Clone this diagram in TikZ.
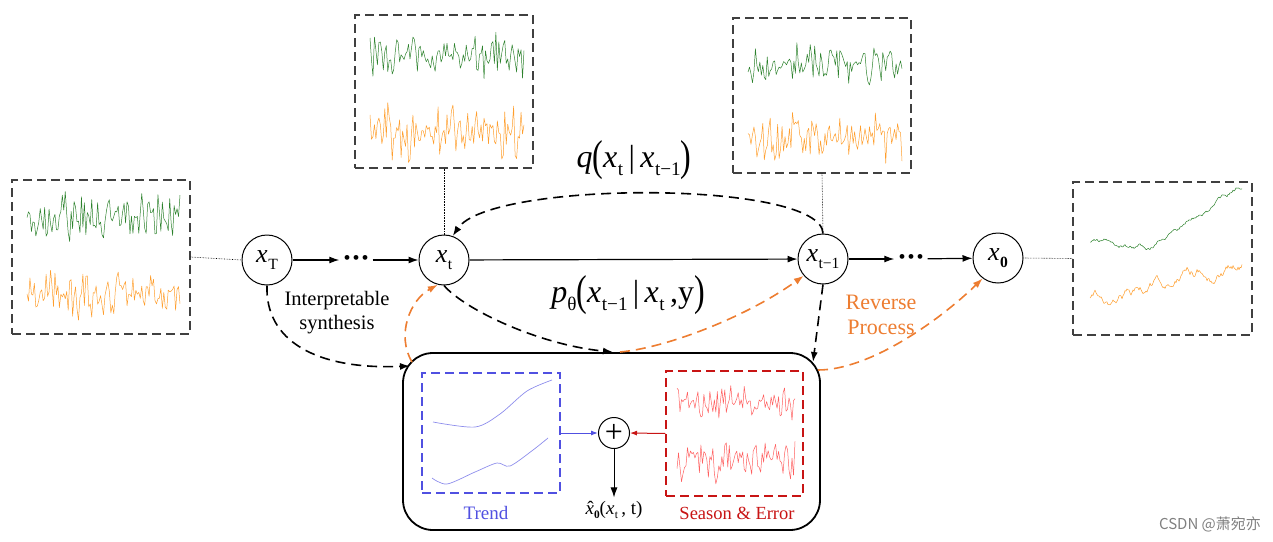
\documentclass[tikz,border=0pt]{standalone}
\usepackage{fontspec}
\setmainfont{Liberation Serif}
\newfontfamily\cjk{Noto Sans CJK SC}
\usetikzlibrary{arrows.meta}
\definecolor{revorange}{RGB}{237,125,49}
\definecolor{sergreen}{RGB}{45,130,45}
\definecolor{serorange}{RGB}{255,158,45}
\definecolor{trendblue}{RGB}{80,80,225}
\definecolor{seasonred}{RGB}{200,20,20}
\definecolor{noisered}{RGB}{255,95,95}
\newcommand{\sub}[1]{\raisebox{-0.25em}{\scalebox{0.6}{#1}}}
\newcommand{\xv}[1]{\textit{x}\kern0.5pt\sub{#1}}
\newcommand{\lp}{\raisebox{-0.1em}{\scalebox{1}[1.35]{(}}}
\newcommand{\rp}{\raisebox{-0.1em}{\scalebox{1}[1.35]{)}}}
\newcommand{\hatx}{\ooalign{\textit{x}\cr\hfil\kern1.5pt ˆ\hfil\cr}}
\newcommand{\bigfont}{\fontsize{32}{34}\selectfont}
\newcommand{\nodefont}{\fontsize{26}{28}\selectfont}
\tikzset{
  state/.style={draw, circle, line width=1pt, minimum size=50pt, inner sep=0pt, font=\nodefont},
  panel/.style={draw=black!75, line width=1.3pt, dash pattern=on 9pt off 5pt},
  conn/.style={line width=1.2pt, -{Latex[length=10pt,width=7pt]}},
  link/.style={conn, line width=1.6pt, dash pattern=on 10pt off 6pt},
  revlink/.style={link, revorange},
  dotline/.style={densely dotted, line width=0.6pt},
  series/.style={line width=0.5pt, line join=round},
  dots/.style={inner sep=4pt, font=\fontsize{20}{20}\selectfont}
}
\begin{document}
\begin{tikzpicture}[x=1pt, y=-1pt]
\useasboundingbox (0,0) rectangle (1273,541);
% sample panels
\node[panel, minimum width=178pt, minimum height=154pt] (boxT) at (101,257) {};
\node[panel, minimum width=178pt, minimum height=153pt] (boxt) at (444,91.5) {};
\node[panel, minimum width=178pt, minimum height=155pt] (boxtm) at (822,95.5) {};
\node[panel, minimum width=179pt, minimum height=153pt] (box0) at (1162.5,258.5) {};
\pgfmathsetseed{11}
\draw[series, sergreen] plot[domain=27:180, samples=105] (\x, {216+15*(rand+rand)});
\draw[series, serorange] plot[domain=27:180, samples=105] (\x, {296+15*(rand+rand)});
\pgfmathsetseed{23}
\draw[series, sergreen] plot[domain=370:524, samples=105] (\x, {56+13*(rand+rand)});
\draw[series, serorange] plot[domain=370:524, samples=105] (\x, {132+16*(rand+rand)});
\pgfmathsetseed{37}
\draw[series, sergreen] plot[domain=748:902, samples=105] (\x, {64+12*(rand+rand)});
\draw[series, serorange] plot[domain=748:902, samples=105] (\x, {138+14*(rand+rand)});
\pgfmathsetseed{5}
\draw[series, sergreen] (1090,242) \foreach \i in {1,...,152} { -- ++(1,{1.6*rand+(\i<60)*0.15-(\i>=60)*0.7}) };
\pgfmathsetseed{19}
\draw[series, serorange] (1090,298) \foreach \i in {1,...,152} { -- ++(1,{3.4*rand-0.17}) };
% chain
\node[state] (xT) at (267,260) {\xv{T}};
\node[state] (xt) at (444,260) {\xv{t}};
\node[state] (xtm) at (823,259) {\xv{t−1}};
\node[state] (x0) at (998,258) {\xv{\textbf{0}}};
\node[dots] (dotsA) at (356,260) {•\kern2pt•\kern2pt•};
\node[dots] (dotsB) at (911,259) {•\kern2pt•\kern2pt•};
\draw[dotline] (boxT.east) -- (xT.west);
\draw[dotline] (boxt.south) -- (xt.north);
\draw[dotline] (boxtm.south) -- (xtm.north);
\draw[dotline] (x0.east) -- (box0.west);
\draw[conn] (xT) -- (dotsA);
\draw[conn] (dotsA) -- (xt);
\draw[conn] (xt) -- (xtm);
\draw[conn] (xtm) -- (dotsB);
\draw[conn] (dotsB) -- (x0);
% denoising block
\node[draw, line width=1.8pt, rounded corners=30pt, minimum width=417pt, minimum height=177pt] (core) at (611.5,441.5) {};
\node[draw=trendblue, dash pattern=on 9pt off 5pt, line width=1.2pt, minimum width=138pt, minimum height=120pt] (trend) at (491,433) {};
\node[draw=seasonred, dash pattern=on 9pt off 5pt, line width=1.2pt, minimum width=137pt, minimum height=125pt] (season) at (734.5,433.5) {};
\draw[trendblue!65, line width=0.7pt] plot[smooth] coordinates {(433,422) (475,427) (500,414) (527,391) (552,380)};
\draw[trendblue!65, line width=0.7pt] plot[smooth] coordinates {(432,478) (447,484) (475,472) (497,463) (510,466) (533,450) (548,438)};
\pgfmathsetseed{71}
\draw[series, noisered] plot[domain=677:795, samples=80] (\x, {403+11*(rand+rand)});
\draw[series, noisered] plot[domain=677:795, samples=80] (\x, {460+13*(rand+rand)});
\node[draw, circle, line width=1pt, minimum size=31pt, inner sep=0pt, font=\fontsize{32}{32}\selectfont] (plus) at (614,433) {+};
\node[trendblue, font=\fontsize{19}{21}\selectfont] (trendlbl) at (486,513) {Trend};
\node[seasonred, font=\fontsize{18.5}{21}\selectfont] (seasonlbl) at (737,513) {Season \& Error};
\node[font=\fontsize{19}{20}\selectfont] (xhat) at (614,510) {\hatx\sub{\textbf{0}}(\xv{t}\,, t)};
\draw[trendblue, line width=1pt, -{Latex[length=7pt,width=5pt]}] (trend.east) -- (plus.west);
\draw[seasonred, line width=1pt, -{Latex[length=7pt,width=5pt]}] (season.west) -- (plus.east);
\draw[conn, line width=1pt] (plus.south) -- (xhat.north);
% labels
\node[font=\fontsize{20.5}{24}\selectfont, align=center] (synth) at (337,313) {Interpretable\\synthesis};
\node[revorange, font=\fontsize{22}{25}\selectfont, align=center] (revlbl) at (881,315) {Reverse\\Process};
\node[font=\bigfont] (qlbl) at (634,160) {\textit{q}\lp\xv{t}\,|\,\xv{t−1}\rp};
\node[font=\bigfont] (plbl) at (628,295) {\textit{p}\sub{θ}\lp\xv{t−1}\,|\,\xv{t}\,,y\rp};
\node[gray, font=\cjk\fontsize{15}{17}\selectfont] (mark) at (1210,524) {CSDN @萧宛亦};
% dashed paths
\coordinate (inL) at (410,366);
\coordinate (outL) at (412,362);
\coordinate (inM) at (613,352);
\coordinate (outM) at (620,352);
\coordinate (inR) at (813,362);
\coordinate (outR) at (818,370);
\draw[link] (xT.south) .. controls (265,340) and (315,370) .. (inL);
\draw[revlink] (outL) .. controls (396,335) and (410,300) .. (xt.256);
\draw[link] (xt.south) .. controls (465,310) and (540,345) .. (inM);
\draw[revlink] (outM) .. controls (665,348) and (745,318) .. (xtm.221);
\draw[link] (xtm.south) -- (inR);
\draw[revlink] (outR) .. controls (870,370) and (940,320) .. (x0.233);
\draw[link] (xtm.north) .. controls (822,180) and (490,180) .. (xt.70);
\end{tikzpicture}
\end{document}
